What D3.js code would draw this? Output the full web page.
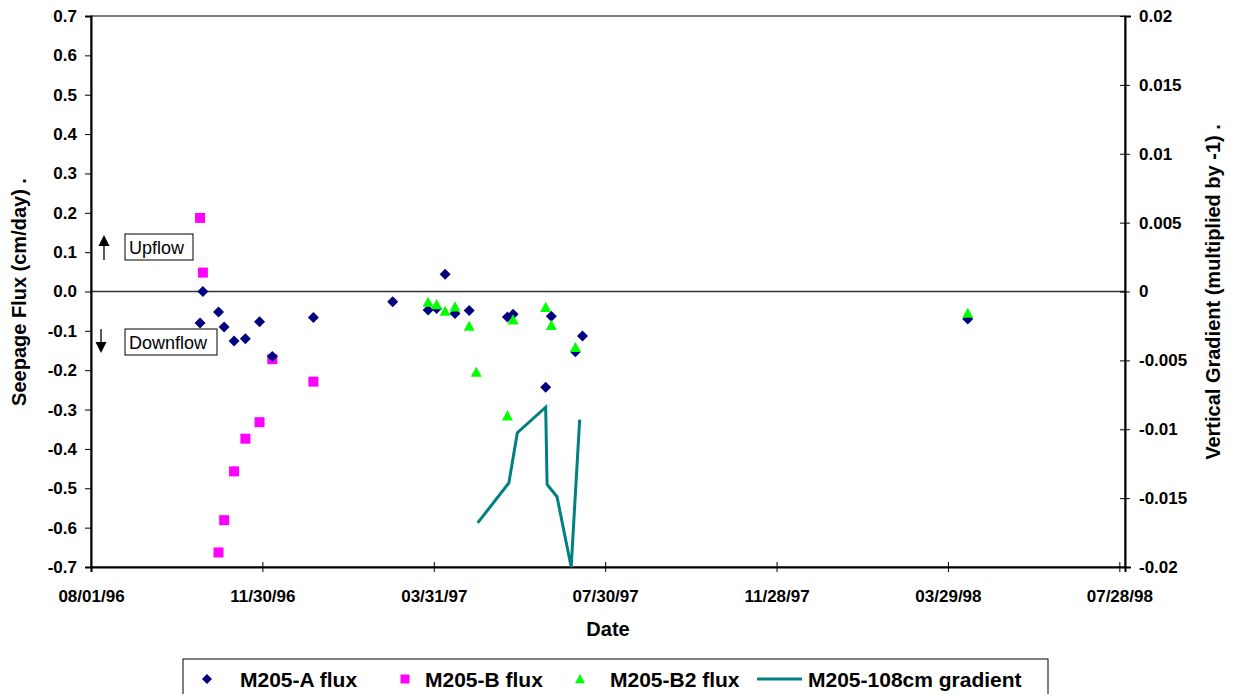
<!DOCTYPE html>
<html>
<head>
<meta charset="utf-8">
<script src="https://cdn.jsdelivr.net/npm/d3@7"></script>
<style>
  html, body { margin: 0; padding: 0; background: #ffffff; }
  svg { display: block; }
  text { font-family: "Liberation Sans", Arial, sans-serif; }
</style>
</head>
<body>
<svg id="chart" width="1235" height="694"></svg>
<script>
// ---- data ----
const aDates = ["1996-10-17","1996-10-19","1996-10-30","1996-11-03","1996-11-10","1996-11-18","1996-11-28","1996-12-07","1997-01-05","1997-03-02","1997-03-27","1997-04-02","1997-04-08","1997-04-15","1997-04-25","1997-05-22","1997-05-26","1997-06-18","1997-06-22","1997-07-09","1997-07-14","1998-04-12"];
const aFlux = [-0.080, 0.000, -0.052, -0.090, -0.126, -0.120, -0.077, -0.165, -0.066, -0.026, -0.047, -0.043, 0.044, -0.056, -0.048, -0.065, -0.058, -0.243, -0.063, -0.153, -0.113, -0.070];

const bDates = ["1996-10-17","1996-10-19","1996-10-30","1996-11-03","1996-11-10","1996-11-18","1996-11-28","1996-12-07","1997-01-05"];
const bFlux = [0.187, 0.048, -0.663, -0.581, -0.457, -0.374, -0.332, -0.172, -0.229];

const b2Dates = ["1997-03-27","1997-04-02","1997-04-08","1997-04-15","1997-04-25","1997-04-30","1997-05-22","1997-05-26","1997-06-18","1997-06-22","1997-07-09","1998-04-12"];
const b2Flux = [-0.027, -0.033, -0.050, -0.039, -0.088, -0.205, -0.316, -0.072, -0.040, -0.086, -0.142, -0.055];

const gDates = ["1997-05-01","1997-05-23","1997-05-29","1997-06-18","1997-06-19","1997-06-26","1997-07-06","1997-07-12"];
const gradient = [-0.0168, -0.0139, -0.01025, -0.0084, -0.0140, -0.0149, -0.0200, -0.0093];

const xDomain = ["1996-08-01", "1998-08-01"];
const xTickStep = 121; // days between date labels
const leftTicks = [0.7, 0.6, 0.5, 0.4, 0.3, 0.2, 0.1, 0.0, -0.1, -0.2, -0.3, -0.4, -0.5, -0.6, -0.7];
const rightTicks = [0.02, 0.015, 0.01, 0.005, 0, -0.005, -0.01, -0.015, -0.02];
const seriesNames = ["M205-A flux", "M205-B flux", "M205-B2 flux", "M205-108cm gradient"];

// ---- drawing ----
const parse = d3.utcParse("%Y-%m-%d");
const fmt = d3.utcFormat("%m/%d/%y");
const svg = d3.select("#chart");
const L = 91, R = 1125, T = 16, B = 567;

const x = d3.scaleUtc().domain(xDomain.map(parse)).range([L, R]);
const y = d3.scaleLinear().domain([-0.7, 0.7]).range([B, T]);
const y2 = d3.scaleLinear().domain([-0.02, 0.02]).range([B, T]);

const xTicks = d3.range(0, 7).map(i => d3.utcDay.offset(parse(xDomain[0]), i * xTickStep));

const tickFont = "bold 17px 'Liberation Sans'";
const f1 = d3.format(".1f");

// plot frame
svg.append("rect").attr("x", L).attr("y", T).attr("width", R - L).attr("height", B - T)
  .attr("fill", "none").attr("stroke", "#000").attr("stroke-width", 1);

// zero line
svg.append("line").attr("x1", L).attr("x2", R).attr("y1", y(0)).attr("y2", y(0))
  .attr("stroke", "#333").attr("stroke-width", 1.3);

// left axis
const gl = svg.append("g").attr("transform", `translate(${L},0)`)
  .call(d3.axisLeft(y).tickValues(leftTicks).tickFormat(d => f1(d).replace("\u2212", "-")).tickSize(6).tickPadding(8));
gl.select(".domain").attr("stroke", "#000").attr("stroke-width", 2);
gl.selectAll("text").style("font", tickFont).attr("fill", "#000");

// right axis
const gr = svg.append("g").attr("transform", `translate(${R},0)`)
  .call(d3.axisRight(y2).tickValues(rightTicks).tickFormat(d => d === 0 ? "0" : String(+d.toFixed(3))).tickSize(6).tickPadding(8));
gr.selectAll(".tick line").attr("x1", -5).attr("x2", 5);
gr.select(".domain").attr("stroke", "#000").attr("stroke-width", 2);
gr.selectAll("text").style("font", tickFont).attr("fill", "#000");

// bottom axis
const gb = svg.append("g").attr("transform", `translate(0,${B})`)
  .call(d3.axisBottom(x).tickValues(xTicks).tickFormat(fmt).tickSize(5).tickPadding(18));
gb.selectAll(".tick line").attr("y1", -5).attr("y2", 5);
gb.select(".domain").attr("stroke", "#000").attr("stroke-width", 2);
gb.selectAll("text").style("font", tickFont).attr("fill", "#000");

// axis titles
const titleFont = "bold 20px 'Liberation Sans'";
svg.append("text").attr("x", 608).attr("y", 636).attr("text-anchor", "middle")
  .style("font", titleFont).text("Date");
svg.append("text").attr("transform", "translate(19,292) rotate(-90)").attr("text-anchor", "middle")
  .attr("dominant-baseline", "central").style("font", titleFont).text("Seepage Flux (cm/day) .");
svg.append("text").attr("transform", "translate(1213,292) rotate(-90)").attr("text-anchor", "middle")
  .attr("dominant-baseline", "central").style("font", titleFont).text("Vertical Gradient (multiplied by -1) .");

// gradient line (right axis)
const line = d3.line().x((d, i) => x(parse(gDates[i]))).y(d => y2(d));
svg.append("path").datum(gradient).attr("d", line)
  .attr("fill", "none").attr("stroke", "#008080").attr("stroke-width", 3).attr("stroke-linejoin", "miter");

// markers
const diamond = s => `M0,${-s}L${s},0L0,${s}L${-s},0Z`;
const square = s => `M${-s},${-s}H${s}V${s}H${-s}Z`;
const triangle = s => `M0,${-s}L${s},${s * 0.85}L${-s},${s * 0.85}Z`;

svg.append("g").selectAll("path").data(bFlux).join("path")
  .attr("transform", (d, i) => `translate(${x(parse(bDates[i]))},${y(d)})`)
  .attr("d", square(5)).attr("fill", "#FF00FF");
svg.append("g").selectAll("path").data(aFlux).join("path")
  .attr("transform", (d, i) => `translate(${x(parse(aDates[i]))},${y(d)})`)
  .attr("d", diamond(5.5)).attr("fill", "#000080");
svg.append("g").selectAll("path").data(b2Flux).join("path")
  .attr("transform", (d, i) => `translate(${x(parse(b2Dates[i]))},${y(d)})`)
  .attr("d", triangle(5.5)).attr("fill", "#00FF00");

// Upflow / Downflow annotations
function arrow(x0, yFrom, yTo) {
  const dir = yTo < yFrom ? -1 : 1;
  svg.append("line").attr("x1", x0).attr("x2", x0).attr("y1", yFrom).attr("y2", yTo - dir * 8)
    .attr("stroke", "#000").attr("stroke-width", 1.3);
  svg.append("path").attr("d", `M${x0},${yTo}L${x0 - 5.5},${yTo - dir * 11}L${x0 + 5.5},${yTo - dir * 11}Z`).attr("fill", "#000");
}
arrow(104, 260, 235);
arrow(101, 329, 353);
const noteFont = "18px 'Liberation Sans'";
svg.append("rect").attr("x", 125).attr("y", 234).attr("width", 68).attr("height", 26)
  .attr("fill", "#fff").attr("stroke", "#000").attr("stroke-width", 1);
svg.append("text").attr("x", 129).attr("y", 253.5).style("font", noteFont).text("Upflow");
svg.append("rect").attr("x", 125).attr("y", 329).attr("width", 92).attr("height", 26)
  .attr("fill", "#fff").attr("stroke", "#000").attr("stroke-width", 1);
svg.append("text").attr("x", 129).attr("y", 348.5).style("font", noteFont).text("Downflow");

// legend
const lg = svg.append("g");
lg.append("rect").attr("x", 183).attr("y", 659).attr("width", 865).attr("height", 40)
  .attr("fill", "#fff").attr("stroke", "#000").attr("stroke-width", 1);
const ly = 679;
const legendFont = "bold 21px 'Liberation Sans'";
lg.append("path").attr("transform", `translate(207,${ly})`).attr("d", diamond(5)).attr("fill", "#000080");
lg.append("path").attr("transform", `translate(405,${ly})`).attr("d", square(4.5)).attr("fill", "#FF00FF");
lg.append("path").attr("transform", `translate(580,${ly})`).attr("d", triangle(5)).attr("fill", "#00FF00");
lg.append("line").attr("x1", 757).attr("x2", 802).attr("y1", ly).attr("y2", ly).attr("stroke", "#008080").attr("stroke-width", 3);
const lx = [240, 425, 610, 808];
seriesNames.forEach((n, i) => {
  lg.append("text").attr("x", lx[i]).attr("y", ly).attr("dominant-baseline", "central")
    .style("font", legendFont).text(n);
});
</script>
</body>
</html>
